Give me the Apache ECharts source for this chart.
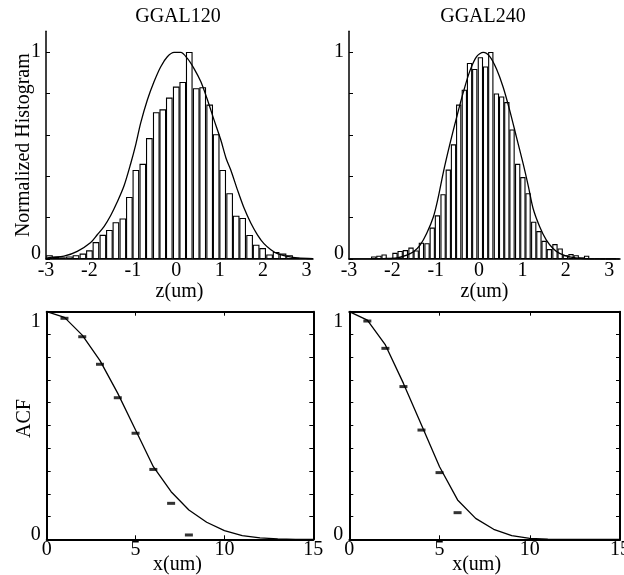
<!DOCTYPE html>
<html>
<head>
<meta charset="utf-8">
<script src="https://cdn.jsdelivr.net/npm/echarts@6/dist/echarts.min.js"></script>
<style>
html,body{margin:0;padding:0;background:#fff;}
#chart{width:624px;height:575px;}
</style>
</head>
<body>
<div id="chart"></div>
<script>
// ---------- data ----------
const titles = ['GGAL120', 'GGAL240'];

// GGAL120 histogram (bin centres, normalised heights)
const h120Bins = [-2.92,-2.77,-2.62,-2.46,-2.31,-2.15,-2.00,-1.85,-1.69,-1.54,-1.39,-1.23,-1.08,-0.93,-0.77,-0.62,-0.46,-0.31,-0.16,0.00,0.15,0.30,0.46,0.61,0.77,0.92,1.07,1.23,1.38,1.53,1.69,1.84,1.99,2.15,2.30,2.46,2.61,2.76,2.92,3.07];
const h120Vals = [0.018,0.010,0.008,0.012,0.018,0.026,0.042,0.082,0.117,0.140,0.178,0.196,0.300,0.430,0.460,0.584,0.709,0.723,0.780,0.833,0.855,1.000,0.825,0.830,0.746,0.603,0.430,0.318,0.209,0.198,0.116,0.069,0.053,0.022,0.034,0.026,0.018,0.006,0.005,0.003];
// GGAL120 fitted curve
const f120X = [-3.0,-2.89,-2.585,-2.28,-1.97,-1.82,-1.66,-1.51,-1.36,-1.20,-1.05,-0.93,-0.82,-0.666,-0.51,-0.357,-0.205,-0.05,0.104,0.256,0.41,0.565,0.72,0.87,1.025,1.147,1.256,1.41,1.562,1.717,1.87,2.02,2.18,2.33,2.56,2.79,3.15];
const f120Y = [0.003,0.008,0.014,0.037,0.080,0.117,0.158,0.210,0.275,0.355,0.460,0.555,0.656,0.768,0.857,0.929,0.977,0.998,0.998,0.969,0.920,0.857,0.768,0.672,0.576,0.487,0.430,0.334,0.246,0.174,0.117,0.074,0.045,0.026,0.013,0.005,0.002];

// GGAL240 histogram
const h240Bins = [-2.43,-2.31,-2.19,-2.06,-1.94,-1.82,-1.70,-1.57,-1.45,-1.33,-1.20,-1.08,-0.96,-0.83,-0.71,-0.59,-0.47,-0.34,-0.22,-0.10,0.03,0.15,0.27,0.40,0.52,0.64,0.76,0.89,1.01,1.13,1.26,1.38,1.50,1.62,1.75,1.87,1.99,2.12,2.24,2.36,2.48,2.61,2.73,2.85,2.98,3.10];
const h240Vals = [0.012,0.016,0.022,0.004,0.030,0.039,0.043,0.055,0.041,0.079,0.076,0.152,0.211,0.313,0.432,0.554,0.746,0.818,0.947,0.918,0.975,0.930,1.000,0.800,0.785,0.758,0.626,0.460,0.396,0.318,0.180,0.135,0.088,0.048,0.072,0.051,0.018,0.024,0.018,0.008,0.016,0.003,0.002,0.001,0.001,0.002];
// GGAL240 fitted curve
const f240X = [-3.0,-2.5,-2.2,-1.9,-1.667,-1.513,-1.36,-1.207,-1.053,-0.95,-0.823,-0.671,-0.517,-0.363,-0.21,-0.057,0.097,0.248,0.402,0.556,0.708,0.862,1.016,1.138,1.246,1.398,1.552,1.706,1.858,2.087,2.40,2.80,3.24];
const f240Y = [0,0.001,0.002,0.005,0.019,0.035,0.067,0.124,0.204,0.290,0.420,0.557,0.685,0.806,0.910,0.978,0.998,0.978,0.918,0.830,0.717,0.589,0.461,0.350,0.244,0.156,0.091,0.051,0.027,0.010,0.002,0.0005,0];

// ACF measured points
const acf120Lag = [1,2,3,4,5,6,7,8];
const acf120Val = [0.971,0.890,0.769,0.622,0.466,0.307,0.158,0.019];
const acf240Lag = [1,2,3,4,5,6];
const acf240Val = [0.959,0.839,0.671,0.480,0.293,0.117];
// ACF fitted curves
const fitLag = [0,1,2,3,4,5,6,7,8,9,10,11,12,13,14,15];
const fit120 = [1.0,0.975,0.897,0.785,0.641,0.480,0.319,0.209,0.129,0.075,0.038,0.016,0.006,0.0015,0,0];
const fit240 = [1.0,0.963,0.854,0.685,0.502,0.319,0.173,0.092,0.044,0.016,0.004,0.001,0,0,0,0];

// ticks
const histXTicks = [-3,-2,-1,0,1,2,3];
const histYTicks = [0,0.2,0.4,0.6,0.8,1.0];
const acfXTicks = [0,5,10,15];
const acfYTicks = [0,0.1,0.2,0.3,0.4,0.5,0.6,0.7,0.8,0.9,1.0];
const yLabelTicks = [0,1];

// ---------- chart ----------
const FONT = 'Liberation Serif, Times New Roman, serif';
const zip = (a, b) => a.map((v, i) => [v, b[i]]);
const txt = {fontFamily: FONT, fontSize: 20, color: '#000'};
const boxLine = {show: true, onZero: false, lineStyle: {color: '#000', width: 2}};

function xAx(grid, min, max, ticks, opts) {
  return Object.assign({
    type: 'value', gridIndex: grid, min: min, max: max, position: 'bottom',
    nameMoveOverlap: false,
    axisLine: {show: true, onZero: false, lineStyle: {color: '#000', width: 1.5}},
    axisTick: {show: false},
    axisLabel: Object.assign({customValues: ticks, margin: 2}, txt),
    splitLine: {show: false}
  }, opts || {});
}
function yAx(grid, min, max, tickVals, opts) {
  return Object.assign({
    type: 'value', gridIndex: grid, min: min, max: max, position: 'left',
    nameMoveOverlap: false,
    axisLine: {show: true, onZero: false, lineStyle: {color: '#000', width: 1.5}},
    axisTick: {show: true, inside: true, length: 4, customValues: tickVals, lineStyle: {color: '#000', width: 1}},
    axisLabel: Object.assign({customValues: yLabelTicks, margin: 5}, txt),
    splitLine: {show: false}
  }, opts || {});
}
function yLab(extra) {
  return Object.assign({customValues: yLabelTicks, margin: 5,
    formatter: function (v) { return v === 0 ? '{lo|0}' : String(v); },
    rich: {lo: {fontFamily: FONT, fontSize: 20, color: '#000', padding: [0, 0, 10, 0]}}
  }, txt, extra || {});
}

const gridTop = 31.3, histH = 227.7;
const option = {
  animation: false,
  backgroundColor: '#fff',
  graphic: [
    {type: 'text', x: 178, y: 17, style: {text: titles[0], font: '20px ' + FONT, fill: '#000', align: 'center', verticalAlign: 'middle'}},
    {type: 'text', x: 483, y: 17, style: {text: titles[1], font: '20px ' + FONT, fill: '#000', align: 'center', verticalAlign: 'middle'}}
  ],
  grid: [
    {left: 46, top: gridTop, width: 267, height: histH, outerBoundsMode: 'none'},
    {left: 349, top: gridTop, width: 271, height: histH, outerBoundsMode: 'none'},
    {left: 46.7, top: 311.7, width: 266.6, height: 227.6, outerBoundsMode: 'none'},
    {left: 349.3, top: 311.7, width: 270.7, height: 227.6, outerBoundsMode: 'none'}
  ],
  xAxis: [
    xAx(0, -3, 3.15, histXTicks, {name: 'z(um)', nameLocation: 'middle', nameGap: 23, nameTextStyle: txt}),
    xAx(1, -3, 3.25, histXTicks, {name: 'z(um)', nameLocation: 'middle', nameGap: 23, nameTextStyle: txt}),
    xAx(2, 0, 15, acfXTicks, {
      name: 'x(um)', nameLocation: 'middle', nameGap: 15, nameTextStyle: Object.assign({padding: [0, 5, 0, 0]}, txt),
      axisLine: boxLine,
      axisTick: {show: true, inside: true, length: 4, customValues: acfXTicks, lineStyle: {color: '#000'}},
      axisLabel: Object.assign({customValues: acfXTicks, margin: 0}, txt)
    }),
    xAx(3, 0, 15, acfXTicks, {
      name: 'x(um)', nameLocation: 'middle', nameGap: 15, nameTextStyle: Object.assign({padding: [0, 16, 0, 0]}, txt),
      axisLine: boxLine,
      axisTick: {show: true, inside: true, length: 4, customValues: acfXTicks, lineStyle: {color: '#000'}},
      axisLabel: Object.assign({customValues: acfXTicks, margin: 0}, txt)
    }),
    xAx(2, 0, 15, acfXTicks, {position: 'top', axisLine: boxLine,
      axisTick: {show: true, inside: true, length: 4, customValues: acfXTicks, lineStyle: {color: '#000'}},
      axisLabel: {show: false}}),
    xAx(3, 0, 15, acfXTicks, {position: 'top', axisLine: boxLine,
      axisTick: {show: true, inside: true, length: 4, customValues: acfXTicks, lineStyle: {color: '#000'}},
      axisLabel: {show: false}})
  ],
  yAxis: [
    yAx(0, 0, 1.1, histYTicks, {name: 'Normalized Histogram', nameLocation: 'middle', nameGap: 12, nameTextStyle: txt,
      axisLabel: yLab()}),
    yAx(1, 0, 1.1, histYTicks, {axisLabel: yLab()}),
    yAx(2, 0, 1, acfYTicks, {name: 'ACF', nameLocation: 'middle', nameGap: 12, nameTextStyle: Object.assign({padding: [0, 0, 0, 14]}, txt),
      axisLine: boxLine,
      axisLabel: yLab({margin: 6, verticalAlignMaxLabel: 'top'})}),
    yAx(3, 0, 1, acfYTicks, {axisLine: boxLine,
      axisLabel: yLab({margin: 6, verticalAlignMaxLabel: 'top'})}),
    yAx(2, 0, 1, acfYTicks, {position: 'right', axisLine: boxLine, axisLabel: {show: false}}),
    yAx(3, 0, 1, acfYTicks, {position: 'right', axisLine: boxLine, axisLabel: {show: false}})
  ],
  series: [
    {type: 'bar', xAxisIndex: 0, yAxisIndex: 0, data: zip(h120Bins, h120Vals), barWidth: 6.67,
      itemStyle: {color: '#fff', borderColor: '#000', borderWidth: 1.1}, z: 2},
    {type: 'line', xAxisIndex: 0, yAxisIndex: 0, data: zip(f120X, f120Y), showSymbol: false, smooth: 0.3,
      lineStyle: {color: '#000', width: 1.3}, z: 3},
    {type: 'bar', xAxisIndex: 1, yAxisIndex: 1, data: zip(h240Bins, h240Vals), barWidth: 5.33,
      itemStyle: {color: '#fff', borderColor: '#000', borderWidth: 1.1}, z: 2},
    {type: 'line', xAxisIndex: 1, yAxisIndex: 1, data: zip(f240X, f240Y), showSymbol: false, smooth: 0.3,
      lineStyle: {color: '#000', width: 1.3}, z: 3},
    {type: 'line', xAxisIndex: 2, yAxisIndex: 2, data: zip(fitLag, fit120), showSymbol: false,
      lineStyle: {color: '#000', width: 1.3}, z: 3},
    {type: 'scatter', xAxisIndex: 2, yAxisIndex: 2, data: zip(acf120Lag, acf120Val), symbol: 'rect', symbolSize: [8, 3],
      itemStyle: {color: '#000'}, z: 4},
    {type: 'line', xAxisIndex: 3, yAxisIndex: 3, data: zip(fitLag, fit240), showSymbol: false,
      lineStyle: {color: '#000', width: 1.3}, z: 3},
    {type: 'scatter', xAxisIndex: 3, yAxisIndex: 3, data: zip(acf240Lag, acf240Val), symbol: 'rect', symbolSize: [8, 3],
      itemStyle: {color: '#000'}, z: 4}
  ]
};
const chart = echarts.init(document.getElementById('chart'), null, {renderer: 'canvas'});
chart.setOption(option);
</script>
</body>
</html>
